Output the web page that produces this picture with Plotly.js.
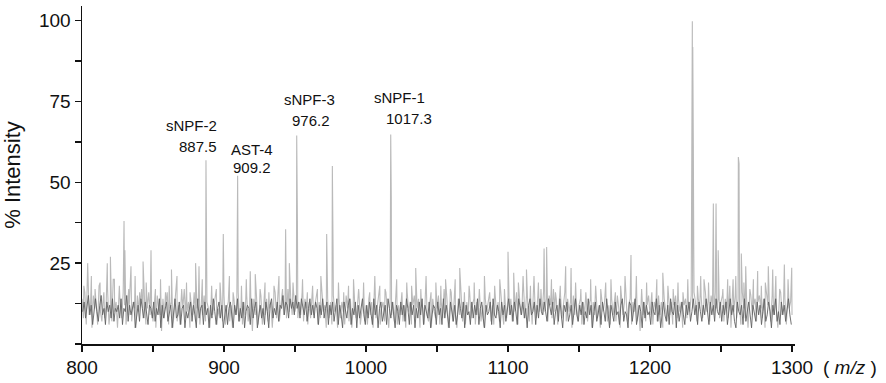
<!DOCTYPE html>
<html>
<head>
<meta charset="utf-8">
<script src="https://cdn.plot.ly/plotly-3.0.1.min.js"></script>
<style>
  html, body { margin: 0; padding: 0; background: #fff; }
  #chart { width: 886px; height: 383px; }
</style>
</head>
<body>
<div id="chart"></div>
<script>
// MALDI spectrum, m/z 800-1300

// light trace baseline, one value per m/z unit starting at 800
const noiseLight = [
  14,8,16,6,19,9,12,5,15,11,13,6,18,10,7,14,8,12,17,6,11,7,20,10,13,
  5,15,11,8,16,12,6,14,9,18,7,13,11,5,15,10,12,17,8,14,6,11,16,9,12,
  7,13,5,15,11,9,4,14,8,12,16,6,11,13,5,10,15,7,12,6,14,11,17,8,10,
  13,5,12,9,16,7,11,14,6,12,9,15,7,13,11,5,14,9,12,16,6,11,8,13,7,
  15,6,11,13,7,12,5,14,9,11,16,7,12,6,13,9,15,7,11,12,4,14,9,13,6,
  11,15,6,12,9,14,7,11,13,5,12,16,8,14,7,12,15,9,13,8,17,10,14,9,16,
  10,15,8,13,9,16,7,14,11,6,13,8,15,9,12,14,6,13,8,16,10,12,5,14,8,
  13,6,15,10,12,5,14,8,13,10,6,15,11,7,14,5,11,13,8,12,16,6,11,14,7,
  12,6,14,9,13,5,15,8,12,14,6,11,13,7,16,10,5,14,9,13,7,15,6,12,9,
  14,7,12,5,16,10,13,6,12,15,8,11,14,5,13,11,6,15,9,7,13,5,14,10,8,
  11,15,6,13,8,17,10,14,5,11,16,7,13,10,5,14,9,15,7,12,6,13,9,16,8,
  12,14,6,13,9,15,7,12,5,14,10,13,16,7,12,6,15,9,13,7,14,10,6,13,8,
  15,9,14,7,13,10,16,6,14,9,13,17,8,15,11,7,14,6,16,12,8,15,10,14,9,
  16,10,14,7,15,12,8,17,10,14,6,13,15,8,12,16,7,14,10,13,5,15,9,14,7,
  12,14,6,13,9,15,7,12,14,5,13,9,16,8,12,5,14,10,13,15,7,12,6,14,9,
  13,7,15,11,5,14,9,13,16,7,12,14,6,13,10,15,7,12,4,14,9,13,7,12,15,
  9,14,6,13,11,7,15,9,13,5,14,11,7,16,9,13,6,12,15,8,14,10,13,5,12,
  14,8,13,10,15,11,16,13,7,14,11,15,8,13,16,10,14,7,15,12,9,16,11,14,8,
  13,15,7,14,11,8,16,5,13,10,15,8,14,12,6,16,11,8,14,5,13,15,9,12,14,
  7,13,15,11,8,14,5,16,12,13,7,15,9,14,11,5,13,16,9,12,14,6,15,11,13,
  9
];

// dark trace, one value per m/z unit starting at 800.5
const noiseDark = [
  10,13,8,11,15,9,12,6,11,14,10,7,12,15,9,11,6,13,10,12,8,14,7,11,10,
  12,8,14,6,11,10,15,7,12,9,11,13,5,9,12,7,14,11,8,13,10,6,12,11,8,
  13,7,11,9,14,5,12,8,10,13,7,9,12,5,10,14,8,9,13,6,11,12,5,10,8,
  11,13,7,12,9,5,14,8,11,12,6,13,9,11,5,12,8,14,10,6,11,13,8,12,5,
  9,12,6,11,13,8,5,12,9,14,7,11,8,13,5,10,12,11,6,14,8,11,13,5,9,
  12,8,11,6,13,10,5,12,14,8,11,9,13,7,12,11,15,9,13,12,8,14,11,13,9,
  15,11,13,8,14,12,9,13,7,11,14,9,12,8,13,11,6,12,9,14,8,11,13,6,12,
  9,13,7,11,14,6,12,9,5,13,10,8,12,14,6,11,9,13,5,12,8,11,14,9,6,
  12,8,13,10,6,14,9,12,5,11,13,7,9,12,6,14,11,8,13,9,5,12,10,6,13,
  9,12,7,14,11,6,13,9,12,5,11,8,13,9,14,6,12,10,8,13,5,9,12,11,6,
  13,9,11,6,14,8,12,9,5,13,10,7,12,6,9,14,11,8,13,5,12,9,10,6,13,
  8,12,9,14,6,11,13,8,5,12,9,10,13,6,14,9,8,12,10,5,13,9,12,7,10,
  14,9,12,7,13,10,6,14,12,9,13,8,11,5,12,14,9,10,13,6,12,8,14,10,9,
  13,10,7,14,12,9,13,6,10,12,7,14,9,5,12,10,13,7,9,12,6,10,14,9,7,
  12,9,13,6,10,8,14,9,12,5,10,13,7,9,12,6,13,10,7,14,9,5,12,10,7,
  13,9,10,6,12,14,7,10,9,5,13,12,7,10,14,6,9,12,10,5,13,8,12,9,10,
  6,13,10,9,14,7,12,5,10,13,9,7,12,6,14,10,9,13,5,12,7,10,13,9,6,
  12,9,13,7,10,14,9,12,6,13,10,7,12,9,14,10,6,13,9,12,7,14,10,9,13,
  7,12,9,13,6,10,14,9,12,7,5,13,10,9,12,6,14,7,10,13,9,5,12,10,7,
  13,9,12,6,10,14,7,9,13,10,5,12,9,14,7,10,6,13,9,12,7,10,14,9,6
];

// labelled and larger spikes
const peakMz = [
  804.0, 817.8, 820.0, 829.6, 830.2, 834.5, 843.0, 848.6, 863.0, 880.0,
  882.4, 887.3, 887.8, 899.5, 909.6, 918.5, 922.0, 943.4, 946.0, 951.2,
  951.7, 972.3, 976.3, 976.8, 1017.4, 1017.8, 1035.0, 1056.0, 1066.0, 1100.0,
  1104.0, 1113.0, 1118.3, 1125.4, 1127.2, 1140.6, 1144.4, 1172.5, 1182.4, 1186.6,
  1209.0, 1229.8, 1230.1, 1230.5, 1230.8, 1235.7, 1238.0, 1244.6, 1246.5, 1248.0,
  1258.5, 1262.2, 1262.7, 1264.3, 1267.4, 1275.8, 1283.3, 1286.4, 1294.6, 1299.8
];
const peakInt = [
  25, 25, 27, 38, 29, 24, 25.5, 29, 23, 25,
  24, 56.8, 34.7, 34, 52, 22.5, 21.6, 35.5, 25, 64.5,
  38, 34, 55, 30, 64.8, 45.5, 23.5, 20, 23.5, 28.5,
  22, 23, 21, 29.5, 30, 24, 23.5, 20, 21, 27.5,
  22, 99.8, 91.8, 61.4, 30, 21, 20, 43.4, 43.4, 29,
  20, 57.8, 55.8, 28, 24, 22.6, 24, 23, 24.6, 23.6
];

// small spikes just above the noise band
const minorMz = [
  801.3, 806.6, 809.2, 812.7, 815.4, 822.8, 826.3, 832.9, 837.4, 840.6,
  845.2, 851.7, 855.3, 858.8, 861.4, 866.9, 870.2, 873.6, 876.1, 884.7,
  891.3, 894.6, 897.2, 903.8, 906.4, 912.3, 915.7, 925.4, 928.9, 931.6,
  935.2, 938.7, 941.2, 948.6, 955.3, 958.7, 962.4, 965.8, 968.2, 980.6,
  984.3, 987.7, 991.2, 994.8, 998.3, 1002.6, 1006.2, 1009.7, 1013.4, 1021.6,
  1025.3, 1028.7, 1032.1, 1038.6, 1042.3, 1045.8, 1049.2, 1052.7, 1059.4, 1062.8,
  1069.3, 1072.6, 1076.2, 1079.8, 1083.4, 1087.1, 1090.6, 1094.2, 1097.5, 1107.3,
  1110.6, 1115.8, 1121.4, 1123.2, 1130.6, 1133.4, 1136.8, 1147.6, 1151.3, 1154.8,
  1158.2, 1161.7, 1165.3, 1168.8, 1175.6, 1179.3, 1190.4, 1194.1, 1197.6, 1201.3,
  1204.8, 1212.6, 1216.3, 1219.7, 1223.2, 1226.6, 1233.4, 1241.2, 1251.3, 1254.7,
  1256.2, 1260.4, 1266.1, 1270.3, 1272.8, 1278.4, 1281.2, 1288.6, 1291.3, 1297.2
];
const minorInt = [
  18, 21, 17, 19, 16, 20, 18, 17, 21, 16,
  19, 17, 20, 16, 18, 21, 17, 19, 16, 20,
  18, 17, 19, 21, 16, 18, 20, 17, 19, 16,
  18, 21, 17, 19, 20, 16, 18, 17, 21, 19,
  16, 18, 20, 17, 19, 16, 21, 18, 17, 20,
  16, 19, 18, 17, 21, 16, 19, 18, 17, 20,
  16, 18, 19, 17, 21, 16, 18, 20, 17, 19,
  21, 18, 19, 17, 20, 16, 18, 19, 17, 16,
  20, 18, 17, 19, 16, 18, 21, 17, 19, 16,
  20, 18, 17, 19, 16, 20, 18, 19, 17, 20,
  18, 21, 19, 17, 20, 18, 19, 21, 17, 20
];

const peakNames = ['sNPF-2', 'AST-4', 'sNPF-3', 'sNPF-1'];
const peakLabels = ['887.5', '909.2', '976.2', '1017.3'];

const xTicks = [800, 850, 900, 950, 1000, 1050, 1100, 1150, 1200, 1250, 1300];
const xTickText = ['800', '', '900', '', '1000', '', '1100', '', '1200', '', '1300'];
const yTicks = [0, 12.5, 25, 37.5, 50, 62.5, 75, 87.5, 100];
const yTickText = ['', '', '25', '', '50', '', '75', '', '100'];

// merge baseline and spikes into one light trace
let pts = noiseLight.map((v, i) => [800 + i, v]);
peakMz.forEach((m, i) => pts.push([m, peakInt[i]]));
minorMz.forEach((m, i) => pts.push([m, minorInt[i]]));
pts.sort((a, b) => a[0] - b[0]);

const light = {
  x: pts.map(p => p[0]),
  y: pts.map(p => p[1]),
  type: 'scatter',
  mode: 'lines',
  line: { color: '#bababa', width: 1.1 },
  hoverinfo: 'skip'
};

const dark = {
  x: noiseDark.map((v, i) => 800.5 + i),
  y: noiseDark,
  type: 'scatter',
  mode: 'lines',
  line: { color: '#626262', width: 0.9 },
  hoverinfo: 'skip'
};

// label placement (name line, value line), in data units
const namePos = [[877.0, 67.6], [919.6, 60.0], [959.9, 75.5], [1023.6, 76.2]];
const valuePos = [[881.7, 61.0], [919.5, 54.7], [961.2, 69.0], [1030.2, 69.6]];

const annFont = { family: 'Liberation Sans, Arial, sans-serif', size: 15, color: '#111' };
const annotations = [];
peakNames.forEach((name, i) => {
    annotations.push({ x: namePos[i][0], y: namePos[i][1], text: name, showarrow: false,
        xanchor: 'center', yanchor: 'middle', font: annFont });
    annotations.push({ x: valuePos[i][0], y: valuePos[i][1], text: peakLabels[i], showarrow: false,
        xanchor: 'center', yanchor: 'middle', font: annFont });
});
annotations.push({
    xref: 'paper', yref: 'paper', x: 1.077, y: -0.071,
    text: '( <i>m/z</i> )', showarrow: false, xanchor: 'center', yanchor: 'middle',
    font: { family: 'Liberation Sans, Arial, sans-serif', size: 19, color: '#111' }
});

const layout = {
    width: 886,
    height: 383,
    margin: { l: 82, r: 91, t: 6, b: 39 },
    paper_bgcolor: '#ffffff',
    plot_bgcolor: '#ffffff',
    showlegend: false,
    font: { family: 'Liberation Sans, Arial, sans-serif', size: 19, color: '#111' },
    xaxis: {
        range: [800, 1302.1],
        tickmode: 'array',
        tickvals: xTicks,
        ticktext: xTickText,
        ticks: 'outside',
        ticklen: 6,
        tickwidth: 1.5,
        tickcolor: '#111',
        showline: true,
        linecolor: '#111',
        linewidth: 1.5,
        showgrid: false,
        zeroline: false
    },
    yaxis: {
        range: [0, 104.5],
        tickmode: 'array',
        tickvals: yTicks,
        ticktext: yTickText,
        ticks: 'outside',
        ticklen: 6,
        tickwidth: 1.5,
        tickcolor: '#111',
        showline: true,
        linecolor: '#111',
        linewidth: 1.5,
        showgrid: false,
        zeroline: false,
        title: { text: '% Intensity', font: { size: 22 }, standoff: 12 }
    },
    annotations: annotations
};

Plotly.newPlot('chart', [light, dark], layout, { displayModeBar: false, staticPlot: true });
</script>
</body>
</html>
